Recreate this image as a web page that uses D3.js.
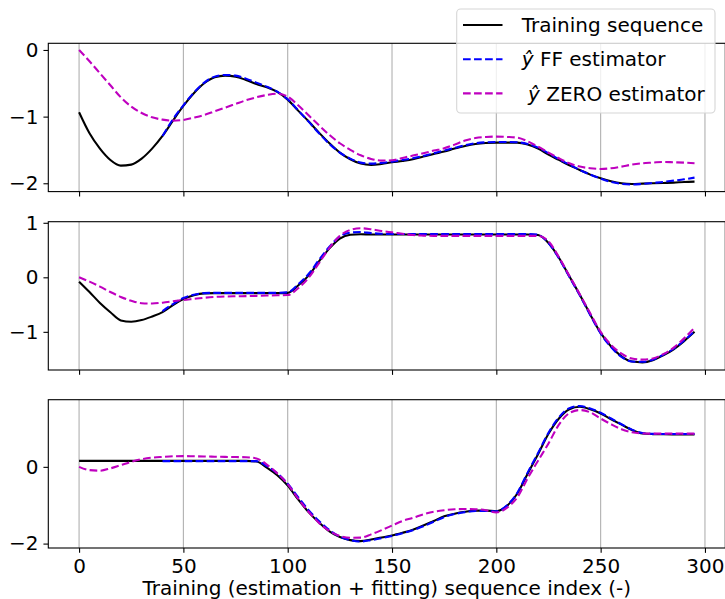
<!DOCTYPE html>
<html><head><meta charset="utf-8">
<script src="https://cdn.jsdelivr.net/npm/d3@7"></script>
<style>
html,body{margin:0;padding:0;background:#fff;}
svg{display:block;font-family:"DejaVu Sans",sans-serif;}
</style></head><body>
<svg id="chart" width="725" height="599"></svg>
<script>
// Sample indices of the knots (every 5th sample); the FF estimator starts at 40
const idx = d3.range(0, 300, 5);
const idxFF = d3.range(40, 300, 5);

// Output 1
const y1Train = [-0.935,-1.25,-1.48,-1.65,-1.735,-1.72,-1.63,-1.48,-1.29,-1.06,
  -0.84,-0.65,-0.50,-0.41,-0.385,-0.40,-0.45,-0.51,-0.56,-0.63,
  -0.745,-0.91,-1.07,-1.24,-1.40,-1.54,-1.64,-1.705,-1.725,-1.71,
  -1.685,-1.665,-1.64,-1.60,-1.56,-1.525,-1.48,-1.44,-1.41,-1.395,
  -1.39,-1.39,-1.39,-1.42,-1.48,-1.57,-1.65,-1.73,-1.80,-1.87,
  -1.925,-1.97,-2.0,-2.01,-2.005,-2.0,-1.995,-1.99,-1.98,-1.975];
const y1FF = [-1.29,-1.04,-0.83,-0.64,-0.49,-0.40,-0.375,-0.385,-0.43,-0.49,
  -0.55,-0.625,-0.74,-0.905,-1.075,-1.25,-1.41,-1.54,-1.63,-1.69,
  -1.705,-1.695,-1.675,-1.65,-1.625,-1.59,-1.55,-1.51,-1.47,-1.43,
  -1.40,-1.385,-1.38,-1.38,-1.385,-1.41,-1.465,-1.55,-1.64,-1.72,
  -1.80,-1.87,-1.93,-1.98,-2.01,-2.02,-2.01,-1.995,-1.98,-1.96,
  -1.94,-1.915];
const y1Zero = [0.0,-0.17,-0.35,-0.53,-0.71,-0.85,-0.945,-1.01,-1.045,-1.06,
  -1.05,-1.015,-0.975,-0.92,-0.865,-0.81,-0.755,-0.71,-0.675,-0.655,
  -0.70,-0.83,-0.98,-1.13,-1.275,-1.40,-1.50,-1.58,-1.635,-1.66,
  -1.655,-1.62,-1.585,-1.55,-1.51,-1.475,-1.42,-1.36,-1.32,-1.305,
  -1.30,-1.305,-1.315,-1.37,-1.45,-1.54,-1.625,-1.70,-1.75,-1.775,
  -1.785,-1.775,-1.75,-1.72,-1.70,-1.69,-1.68,-1.685,-1.69,-1.70];

// Output 2
const y2Train = [-0.08,-0.27,-0.47,-0.64,-0.79,-0.815,-0.785,-0.72,-0.64,-0.51,
  -0.40,-0.33,-0.295,-0.29,-0.29,-0.29,-0.29,-0.29,-0.29,-0.29,
  -0.285,-0.15,0.03,0.29,0.53,0.71,0.78,0.79,0.785,0.785,
  0.785,0.785,0.785,0.785,0.785,0.785,0.785,0.785,0.785,0.785,
  0.785,0.785,0.785,0.785,0.775,0.63,0.36,0.02,-0.32,-0.68,
  -1.02,-1.27,-1.45,-1.545,-1.56,-1.52,-1.43,-1.32,-1.17,-1.0];
const y2FF = [-0.62,-0.49,-0.38,-0.32,-0.29,-0.285,-0.285,-0.285,-0.285,-0.285,
  -0.285,-0.285,-0.275,-0.13,0.06,0.32,0.56,0.75,0.82,0.83,
  0.81,0.80,0.795,0.795,0.795,0.795,0.795,0.795,0.795,0.795,
  0.795,0.795,0.795,0.795,0.795,0.795,0.78,0.63,0.35,0.01,
  -0.33,-0.69,-1.03,-1.28,-1.46,-1.545,-1.55,-1.51,-1.42,-1.31,
  -1.16,-0.99];
const y2Zero = [0.0,-0.08,-0.17,-0.27,-0.36,-0.43,-0.475,-0.48,-0.465,-0.44,
  -0.415,-0.395,-0.375,-0.36,-0.352,-0.348,-0.345,-0.34,-0.335,-0.33,
  -0.325,-0.20,-0.01,0.26,0.54,0.76,0.87,0.90,0.88,0.85,
  0.825,0.80,0.775,0.765,0.76,0.76,0.76,0.76,0.76,0.76,
  0.76,0.76,0.76,0.76,0.76,0.66,0.37,0.03,-0.31,-0.66,
  -1.0,-1.24,-1.40,-1.49,-1.51,-1.49,-1.41,-1.29,-1.12,-0.925];

// Output 3
const y3Train = [0.155,0.155,0.155,0.155,0.155,0.155,0.155,0.155,0.155,0.155,
  0.155,0.155,0.155,0.155,0.155,0.155,0.155,0.14,-0.02,-0.22,
  -0.49,-0.85,-1.18,-1.45,-1.68,-1.83,-1.91,-1.935,-1.895,-1.84,
  -1.79,-1.72,-1.64,-1.53,-1.41,-1.29,-1.22,-1.17,-1.14,-1.14,
  -1.155,-1.02,-0.70,-0.18,0.33,0.86,1.26,1.50,1.565,1.50,
  1.39,1.24,1.10,0.96,0.87,0.853,0.848,0.846,0.845,0.845];
const y3FF = [0.15,0.15,0.15,0.15,0.15,0.15,0.15,0.15,0.15,0.15,
  0.02,-0.17,-0.44,-0.79,-1.13,-1.41,-1.65,-1.82,-1.91,-1.945,
  -1.91,-1.86,-1.80,-1.73,-1.65,-1.55,-1.43,-1.31,-1.23,-1.18,
  -1.15,-1.15,-1.16,-1.01,-0.68,-0.15,0.36,0.89,1.29,1.53,
  1.585,1.52,1.41,1.26,1.11,0.97,0.88,0.86,0.855,0.855,
  0.855,0.855];
const y3Zero = [0.0,-0.085,-0.10,-0.04,0.045,0.13,0.20,0.24,0.26,0.275,
  0.28,0.275,0.27,0.265,0.26,0.255,0.25,0.22,0.06,-0.17,
  -0.45,-0.83,-1.17,-1.46,-1.67,-1.80,-1.85,-1.845,-1.76,-1.65,
  -1.53,-1.41,-1.33,-1.24,-1.17,-1.13,-1.105,-1.10,-1.105,-1.13,
  -1.19,-1.07,-0.80,-0.30,0.16,0.61,1.10,1.40,1.48,1.42,
  1.26,1.11,0.98,0.90,0.87,0.865,0.865,0.865,0.865,0.865];

const xTicks = [0, 50, 100, 150, 200, 250, 300];
const seriesNames = ["Training sequence", "FF estimator", "ZERO estimator"];
const panels = [
  { train: y1Train, ff: y1FF, zero: y1Zero, domain: [-2.125, 0.10], ticks: [-2, -1, 0] },
  { train: y2Train, ff: y2FF, zero: y2Zero, domain: [-1.70, 1.02], ticks: [-1, 0, 1] },
  { train: y3Train, ff: y3FF, zero: y3Zero, domain: [-2.115, 1.75], ticks: [-2, 0] }
];

const left = 48.3, right = 725.3;
const tops = [43.3, 221.7, 399.7], panelH = 148.3;
const FS = 20, TICK = 4.86, PAD = 4.86;
const colors = { train: "#000000", ff: "#0000ff", zero: "#bf00bf" };
const LW = 2.08, DASH = "7.7,3.33";

const svg = d3.select("#chart");
const x = d3.scaleLinear().domain([-14.75, 309.75]).range([left, right]);
const fmt = v => v < 0 ? "\u2212" + Math.abs(v) : String(v);

panels.forEach((p, i) => {
  const top = tops[i], bottom = top + panelH;
  const y = d3.scaleLinear().domain(p.domain).range([bottom, top]);
  const g = svg.append("g");
  const clipId = "clip" + i;
  svg.append("clipPath").attr("id", clipId)
    .append("rect").attr("x", left).attr("y", top).attr("width", right - left).attr("height", panelH);

  // vertical grid
  g.append("g").selectAll("line").data(xTicks).join("line")
    .attr("x1", d => x(d)).attr("x2", d => x(d)).attr("y1", top).attr("y2", bottom)
    .attr("stroke", "#b0b0b0").attr("stroke-width", 1.1);

  const line = d3.line().x(d => x(d[0])).y(d => y(d[1])).curve(d3.curveMonotoneX);
  const plot = g.append("g").attr("clip-path", `url(#${clipId})`);
  plot.append("path").attr("d", line(d3.zip(idx, p.train)))
    .attr("fill", "none").attr("stroke", colors.train).attr("stroke-width", LW);
  plot.append("path").attr("d", line(d3.zip(idxFF, p.ff)))
    .attr("fill", "none").attr("stroke", colors.ff).attr("stroke-width", LW).attr("stroke-dasharray", DASH);
  plot.append("path").attr("d", line(d3.zip(idx, p.zero)))
    .attr("fill", "none").attr("stroke", colors.zero).attr("stroke-width", LW).attr("stroke-dasharray", DASH);

  // axes
  const xAxis = d3.axisBottom(x).tickValues(xTicks).tickSize(TICK).tickPadding(PAD)
    .tickFormat(i === 2 ? d3.format("d") : () => "");
  const gx = g.append("g").attr("transform", `translate(0,${bottom})`).call(xAxis);
  const yAxis = d3.axisLeft(y).tickValues(p.ticks).tickSize(TICK).tickPadding(PAD).tickFormat(fmt);
  const gy = g.append("g").attr("transform", `translate(${left},0)`).call(yAxis);
  [gx, gy].forEach(a => {
    a.select(".domain").remove();
    a.selectAll(".tick line").attr("stroke", "#000").attr("stroke-width", 1.1);
    a.selectAll(".tick text").attr("fill", "#000").style("font-size", FS + "px")
      .style("font-family", "'DejaVu Sans', sans-serif");
  });
  gx.selectAll(".tick text").attr("dy", "0.76em");

  // frame
  g.append("rect").attr("x", left).attr("y", top).attr("width", right - left).attr("height", panelH)
    .attr("fill", "none").attr("stroke", "#000").attr("stroke-width", 1.1);
});

// x-axis title
svg.append("text").attr("x", (left + right) / 2).attr("y", 595)
  .attr("text-anchor", "middle").style("font-size", FS + "px").attr("fill", "#000")
  .text("Training (estimation + fitting) sequence index (-)");

// legend
const lg = svg.append("g");
lg.append("rect").attr("x", 456.7).attr("y", 9).attr("width", 258.3).attr("height", 104)
  .attr("rx", 4).attr("fill", "#fff").attr("fill-opacity", 0.8)
  .attr("stroke", "#d6d6d6").attr("stroke-width", 1.1);
const rows = [
  { key: "train", dash: null, pre: "", name: seriesNames[0], hat: false },
  { key: "ff", dash: DASH, pre: "", name: seriesNames[1], hat: true },
  { key: "zero", dash: DASH, pre: "\u00a0", name: seriesNames[2], hat: true }
];
rows.forEach((r, k) => {
  const cy = 25 + k * 34.2;
  lg.append("line").attr("x1", 463).attr("x2", 502.5).attr("y1", cy).attr("y2", cy)
    .attr("stroke", colors[r.key]).attr("stroke-width", LW)
    .attr("stroke-dasharray", r.dash);
  const t = lg.append("text").attr("x", 521.7).attr("y", cy).attr("dy", "0.36em")
    .style("font-size", FS + "px").attr("fill", "#000");
  if (r.hat) {
    t.append("tspan").text(r.pre + "\u0177").style("font-style", "italic");
    t.append("tspan").text(" " + r.name);
  } else {
    t.text(r.name);
  }
});
</script>
</body></html>
